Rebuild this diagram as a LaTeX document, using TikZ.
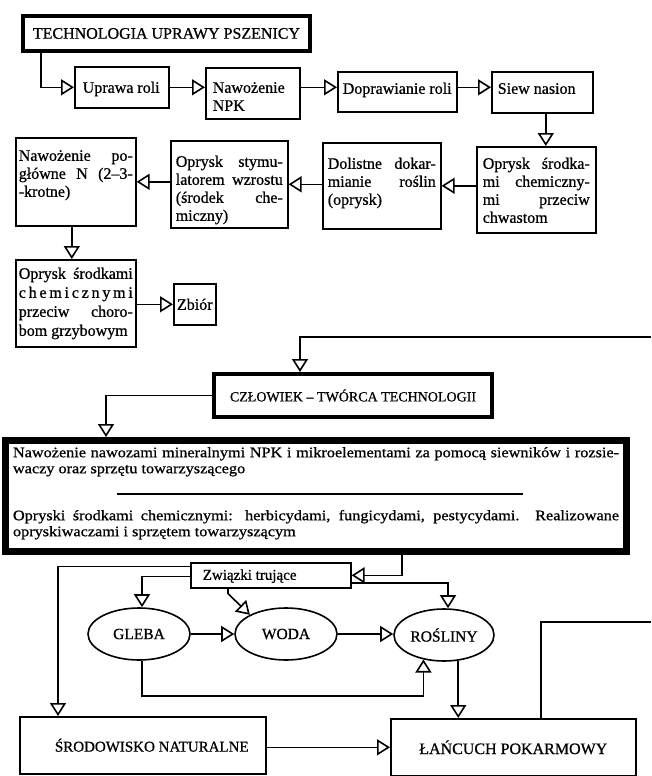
\documentclass[tikz,border=0pt]{standalone}
\usepackage{fontspec}
\setmainfont{Liberation Serif}[FakeBold=0.8]
\newfontfamily\widefont{Liberation Serif}[FakeStretch=1.12, FakeBold=0.8]
\usetikzlibrary{arrows.meta,shapes.geometric}

% a top-aligned text cell: width, height, top pad, side pad, lines
\newcommand\cell[5]{%
  \parbox[c][#2pt][t]{#1pt}{\vspace*{#3pt}\hspace*{#4pt}%
    \parbox[t]{\dimexpr#1pt-#4pt-#4pt\relax}{#5}}}
\newcommand\jline[1]{\makebox[\linewidth][s]{\strut#1}}
\newcommand\pline[1]{\mbox{\strut#1}}

\tikzset{
  box/.style={draw, rectangle, line width=1.6pt, inner sep=0pt, anchor=north west},
  heavybox/.style={box, line width=4pt},
  framebox/.style={box, line width=7pt},
  oval/.style={draw, ellipse, line width=1.6pt, inner sep=0pt,
               minimum width=102pt, minimum height=52pt,
               font=\fontsize{15.5pt}{18pt}\selectfont},
  link/.style={line width=1.6pt},
  arr/.style={link, -{Triangle[open, length=13pt, width=16pt]}},
  txt/.style={font=\fontsize{16pt}{18pt}\selectfont},
}

\begin{document}
\begin{tikzpicture}[x=1pt, y=-1pt, txt]
\useasboundingbox (0,0) rectangle (651,776);

% ---------- technology chain ----------
\node[heavybox, minimum width=287pt, minimum height=35pt] (tech) at (21,14)
  {TECHNOLOGIA UPRAWY PSZENICY};

\node[box] (upr) at (74,66) {\cell{94}{41}{13.4}{8}{\pline{Uprawa roli}}};
\node[box] (npk) at (205,67) {\cell{94}{51}{12.4}{7}{\pline{Nawożenie}\\\pline{NPK}}};
\node[box] (dop) at (337,71) {\cell{119}{40}{9.4}{5}{\pline{Doprawianie roli}}};
\node[box] (siew) at (491,71) {\cell{101}{41}{9.4}{6}{\pline{Siew nasion}}};

\node[box] (chw) at (476,146) {\cell{119}{86}{9.4}{6}{%
  \jline{Oprysk środka-}\\\jline{mi chemiczny-}\\\jline{mi przeciw}\\\pline{chwastom}}};
\node[box] (dol) at (322,142) {\cell{118}{86}{13.4}{5}{%
  \jline{Dolistne dokar-}\\\jline{mianie roślin}\\\pline{(oprysk)}}};
\node[box] (sty) at (170,140) {\cell{117}{87}{13.4}{5}{%
  \jline{Oprysk stymu-}\\\jline{latorem wzrostu}\\\jline{(środek che-}\\\pline{miczny)}}};
\node[box] (npg) at (15,137) {\cell{120}{88}{10.4}{3}{%
  \jline{Nawożenie po-}\\\jline{główne N (2–3-}\\\pline{-krotne)}}};

\node[box] (chor) at (15,259) {\cell{120}{87}{6.4}{3}{\baselineskip=19pt
  \jline{Oprysk środkami}\\\jline{c h e m i c z n y m i}\\\jline{przeciw choro-}\\\pline{bom grzybowym}}};
\node[box, minimum width=42pt, minimum height=41pt] (zb) at (173,283) {Zbiór};

\draw[arr] ([xshift=20pt]tech.south west) |- (upr.west);
\draw[arr] (upr.east) -- (upr.east -| npk.west);
\draw[arr] (npk.east |- upr.east) -- (upr.east -| dop.west);
\draw[arr] (dop.east |- upr.east) -- (upr.east -| siew.west);
\draw[arr] ([xshift=3.5pt]siew.south) -- ([xshift=3.5pt]siew.south |- chw.north);
\draw[arr] (chw.west |- dol.east) -- (dol.east);
\draw[arr] (dol.west |- sty.east) -- (sty.east);
\draw[arr] (sty.west |- npg.east) -- (npg.east);
\draw[arr] ([xshift=-4pt]npg.south) -- ([xshift=-4pt]npg.south |- chor.north);
\draw[arr] (zb.west -| chor.east) -- (zb.west);

% ---------- man and the environment ----------
\coordinate (inR) at (651,337);
\coordinate (outR) at (651,622);

\node[heavybox, minimum width=278pt, minimum height=43pt, font=\fontsize{14pt}{18pt}\selectfont] (czl) at (212,372)
  {CZŁOWIEK – TWÓRCA TECHNOLOGII};

\node[framebox, font=\widefont\fontsize{14.5pt}{16pt}\selectfont] (big) at (2,437) {\cell{621}{111}{5.5}{7.5}{%
  \jline{Nawożenie nawozami mineralnymi NPK i mikroelementami za pomocą siewników i rozsie-}\\
  \pline{waczy oraz sprzętu towarzyszącego}\\[5pt]
  \hspace*{104pt}\rule[-0.75pt]{406pt}{1.5pt}\strut\\[10pt]
  \jline{Opryski środkami chemicznymi: herbicydami, fungicydami, pestycydami. Realizowane}\\
  \pline{opryskiwaczami i sprzętem towarzyszącym}}};

\node[box, font=\fontsize{15pt}{16pt}\selectfont] (zw) at (190,562)
  {\cell{160}{25}{5.8}{12}{\pline{Związki trujące}}};

\node[oval] (gleba) at (139,634) {GLEBA};
\node[oval] (woda) at (286,634) {WODA};
\node[oval, minimum width=100pt] (rosl) at (444,635) {ROŚLINY};

\node[box, minimum width=246pt, minimum height=57pt, font=\fontsize{15pt}{18pt}\selectfont] (sr) at (19,716)
  {\hspace*{18pt}ŚRODOWISKO NATURALNE};
\node[box, minimum width=245pt, minimum height=57pt] (lan) at (390,718) {ŁAŃCUCH POKARMOWY};

\draw[arr] (inR) -| ([xshift=88pt]czl.north west);
\draw[arr] (czl.west) -| ([xshift=104pt]big.north west);
\draw[arr] ([xshift=400pt]big.south west) |- (zw.east);
\draw[arr] ([yshift=9pt]zw.west) -| ([xshift=39pt]sr.north west);
\draw[arr] ([yshift=-1pt]zw.west) -| ([xshift=3pt]gleba.north);
\draw[arr] ([xshift=38pt]zw.south west) -- ++(0,5) -- (woda.152);
\draw[arr] ([yshift=-7.5pt]zw.east) -| ([xshift=4pt]rosl.north);
\draw[arr] (gleba.east) -- (woda.west);
\draw[arr] (woda.east) -- (woda.east -| rosl.west);
\draw[arr] ([xshift=3pt]gleba.south) -- ++(0,35) -| (rosl.230);
\draw[arr] (rosl.299) -- (rosl.299 |- lan.north);
\draw[arr] (sr.east |- lan.west) -- (lan.west);
\draw[link] ([xshift=151pt]lan.north west) |- (outR);
\end{tikzpicture}
\end{document}
